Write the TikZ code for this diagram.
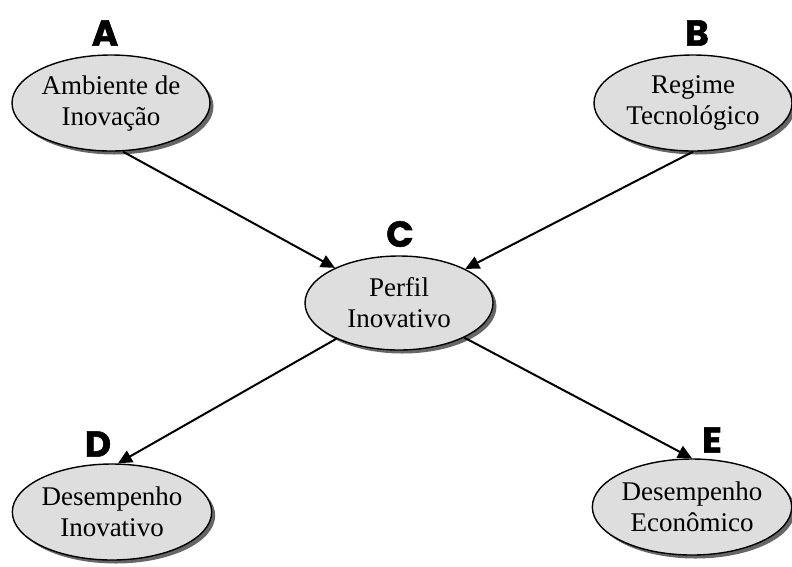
\documentclass[tikz,border=0pt]{standalone}
\usepackage{fontspec}
\setmainfont{Liberation Serif}
\newfontfamily\letterfont[BoldFeatures={FakeBold=1.5}]{Poppins}
\usetikzlibrary{shapes.geometric,shadows,arrows.meta}
\tikzset{
  blob/.style={ellipse, draw=black, line width=1.4pt, fill=black!13, minimum width=198pt, minimum height=96pt, inner sep=0pt, align=center,
    font=\fontsize{27}{31}\selectfont,
    drop shadow={shadow xshift=3.5pt, shadow yshift=-3.5pt, fill=black!60, opacity=1}},
  tag/.style={font=\letterfont\bfseries\fontsize{36}{36}\selectfont, inner sep=0pt},
  link/.style={line width=2pt, -{Triangle[length=14pt,width=13pt]}}
}
\begin{document}
\begin{tikzpicture}[x=1pt,y=-1pt]
\useasboundingbox (0,0) rectangle (792,566);
\node[blob] (A) at (111,103) {Ambiente de\\Inovação};
\node[blob] (B) at (693,103) {Regime\\Tecnológico};
\node[blob, minimum width=188pt, minimum height=94pt] (C) at (399,303) {Perfil\\Inovativo};
\node[blob] (D) at (112,512) {Desempenho\\Inovativo};
\node[blob] (E) at (692,507) {Desempenho\\Econômico};
\node[tag] (lA) at (105,33) {A};
\node[tag] (lB) at (697,33) {B};
\node[tag] (lC) at (400,234) {C};
\node[tag] (lD) at (98,444) {D};
\node[tag] (lE) at (712,440) {E};
\draw[link] ([xshift=12pt]A.south) -- (C);
\draw[link] (B.south) -- (C);
\draw[link] (C) -- ([xshift=6pt]D.north);
\draw[link] (C) -- (E.north);
\end{tikzpicture}
\end{document}
